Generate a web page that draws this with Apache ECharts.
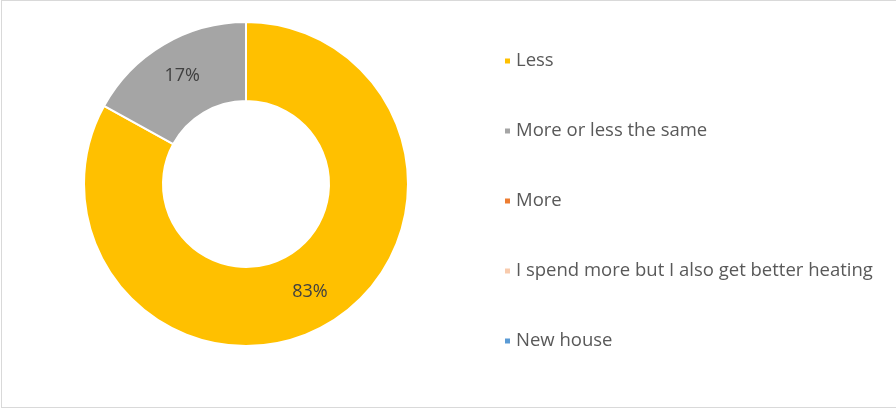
<!DOCTYPE html>
<html>
<head>
<meta charset="utf-8">
<script src="https://cdn.jsdelivr.net/npm/echarts@6/dist/echarts.min.js"></script>
<style>
html,body{margin:0;padding:0;background:#fff;overflow:hidden;}
#frame{position:absolute;left:1px;top:0;width:910px;height:408px;border:1px solid #d9d9d9;box-sizing:border-box;}
#chart{position:absolute;left:0;top:0;width:896px;height:409px;}
</style>
</head>
<body>
<div id="frame"></div>
<div id="chart"></div>
<script>
const categories = ["Less", "More or less the same", "More", "I spend more but I also get better heating", "New house"];
const values = [83, 17, 0, 0, 0];
const colors = ["#FFC000", "#A5A5A5", "#ED7D31", "#F8CBAD", "#5B9BD5"];

const chart = echarts.init(document.getElementById('chart'), null, {renderer: 'canvas'});
const data = categories.map((name, i) => ({
  name: name,
  value: values[i],
  itemStyle: {color: colors[i]},
  label: {show: values[i] > 0}
}));
chart.setOption({
  animation: false,
  color: colors,
  legend: {
    orient: 'vertical',
    left: 503,
    top: 50,
    padding: 0,
    icon: 'rect',
    itemWidth: 7,
    itemHeight: 7,
    itemGap: 48,
    itemTextGap: 6,
    data: categories,
    textStyle: {fontFamily: 'Open Sans', fontSize: 18.5, color: '#595959', lineHeight: 22}
  },
  series: [{
    type: 'pie',
    center: [246, 184],
    radius: [83, 162],
    startAngle: 90,
    clockwise: true,
    percentPrecision: 0,
    avoidLabelOverlap: false,
    itemStyle: {borderColor: '#fff', borderWidth: 2},
    label: {
      position: 'inside',
      formatter: '{d}%',
      fontFamily: 'Open Sans',
      fontSize: 18,
      color: '#404040'
    },
    labelLine: {show: false},
    emphasis: {disabled: true},
    data: data
  }]
});
</script>
</body>
</html>
